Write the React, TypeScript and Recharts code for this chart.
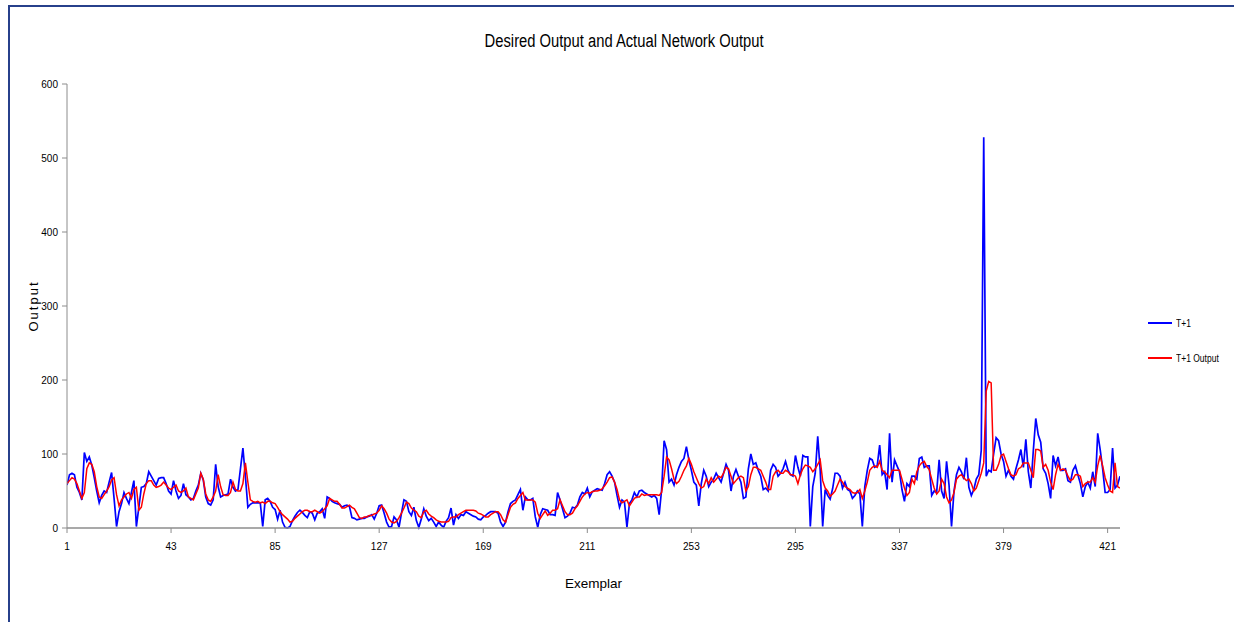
import React from "react";
import { LineChart, Line, XAxis, YAxis, Legend } from "recharts";

const seriesNames = ["T+1", "T+1 Output"];
const xTicks = [1, 43, 85, 127, 169, 211, 253, 295, 337, 379, 421];
const yTicks = [0, 100, 200, 300, 400, 500, 600];

const desired = [
  58, 72, 74, 72, 55, 48, 38, 102, 90, 96,
  85, 68, 50, 34, 44, 50, 48, 62, 75, 40,
  2, 22, 33, 48, 40, 33, 48, 64, 2, 28,
  55, 56, 60, 76, 70, 64, 58, 67, 68, 68,
  60, 50, 46, 64, 50, 40, 44, 60, 45, 42,
  38, 40, 50, 58, 74, 65, 42, 33, 31, 38,
  86, 56, 42, 44, 45, 46, 66, 55, 50, 52,
  80, 108, 70, 28, 32, 34, 34, 34, 34, 2,
  38, 40, 36, 28, 25, 12, 24, 8, 1, 0,
  2, 10, 16, 21, 24, 21, 17, 14, 22, 20,
  11, 20, 22, 26, 13, 42, 40, 36, 34, 33,
  32, 28, 30, 31, 29, 14, 13, 11, 12, 13,
  13, 15, 16, 18, 12, 20, 30, 31, 20, 8,
  1, 2, 15, 11, 1, 20, 38, 36, 22, 17,
  28, 10, 1, 12, 26, 16, 10, 13, 8, 2,
  8, 4, 1, 9, 14, 27, 4, 18, 13, 18,
  17, 22, 20, 18, 16, 15, 12, 11, 15, 17,
  20, 22, 22, 22, 20, 8, 2, 8, 22, 33,
  36, 38, 45, 52, 24, 42, 38, 38, 40, 15,
  1, 18, 26, 25, 24, 18, 18, 17, 48, 38,
  26, 14, 16, 20, 28, 27, 31, 42, 48, 46,
  54, 42, 49, 51, 53, 52, 51, 60, 72, 76,
  70, 62, 44, 28, 38, 35, 1, 33, 38, 48,
  42, 50, 51, 48, 46, 44, 42, 44, 40, 18,
  52, 118, 106, 62, 66, 58, 72, 82, 90, 94,
  110, 92, 78, 62, 58, 30, 60, 78, 70, 56,
  62, 66, 74, 68, 62, 74, 86, 78, 50, 70,
  79, 70, 62, 40, 42, 80, 100, 86, 88, 78,
  70, 52, 54, 50, 78, 86, 82, 70, 74, 80,
  90, 78, 72, 70, 98, 82, 70, 98, 96, 96,
  2, 56, 74, 124, 78, 2, 52, 44, 39, 53,
  74, 74, 70, 54, 62, 52, 50, 40, 44, 50,
  46, 2, 56, 78, 94, 92, 82, 84, 112, 72,
  76, 52, 128, 62, 92, 84, 76, 52, 36, 60,
  56, 70, 70, 66, 94, 96, 82, 84, 84, 44,
  50, 48, 92, 50, 40, 90, 58, 2, 50, 72,
  82, 76, 66, 95, 55, 44, 52, 66, 72, 105,
  528, 70, 78, 76, 100, 122, 118, 100, 90, 70,
  78, 70, 66, 80, 92, 106, 82, 120, 76, 54,
  104, 148, 126, 116, 80, 74, 60, 40, 98, 84,
  96, 78, 78, 80, 64, 62, 78, 84, 72, 60,
  42, 56, 62, 54, 76, 56, 128, 106, 80, 48,
  48, 52, 108, 54, 58, 70,
];

const actual = [
  60, 64, 68, 66, 60, 50, 40, 48, 80, 88,
  86, 76, 56, 42, 40, 45, 50, 56, 65, 68,
  45, 30, 38, 42, 46, 48, 40, 52, 55, 24,
  28, 46, 60, 64, 64, 58, 55, 56, 58, 62,
  58, 54, 52, 55, 58, 50, 48, 50, 54, 42,
  40, 38, 46, 54, 74, 66, 46, 38, 36, 42,
  50, 72, 56, 45, 44, 44, 48, 62, 52, 50,
  50, 60, 88, 62, 38, 36, 35, 36, 34, 35,
  33, 36, 36, 34, 33, 28, 22, 18, 15, 12,
  8, 9, 13, 16, 19, 22, 24, 24, 22, 22,
  24, 22, 20, 22, 26, 30, 40, 38, 36, 36,
  32, 27, 27, 29, 31, 28, 26, 20, 14, 13,
  15, 15, 17, 17, 19, 20, 24, 30, 26, 20,
  12, 8, 7, 9, 14, 20, 27, 35, 33, 27,
  24, 22, 16, 14, 22, 24, 19, 16, 14, 11,
  9, 8, 8, 8, 9, 14, 15, 15, 18, 20,
  22, 24, 24, 24, 24, 23, 20, 19, 17, 15,
  15, 18, 20, 22, 22, 18, 11, 8, 18, 28,
  32, 34, 40, 44, 48, 38, 38, 38, 38, 35,
  20, 13, 18, 23, 17, 20, 24, 24, 26, 38,
  30, 22, 18, 18, 20, 26, 30, 36, 42, 46,
  48, 47, 49, 50, 50, 51, 53, 57, 62, 68,
  69, 62, 52, 38, 34, 36, 38, 30, 35, 40,
  42, 42, 46, 44, 45, 45, 45, 45, 45, 44,
  48, 70, 96, 92, 80, 66, 60, 63, 70, 78,
  84, 94, 86, 76, 68, 60, 54, 56, 66, 60,
  68, 62, 66, 70, 68, 74, 82, 80, 70, 60,
  64, 68, 70, 68, 50, 56, 72, 82, 82, 80,
  78, 70, 62, 52, 52, 70, 76, 78, 74, 74,
  78, 76, 72, 72, 70, 60, 72, 80, 85, 84,
  82, 76, 80, 86, 92, 64, 54, 50, 43, 46,
  50, 58, 66, 62, 56, 54, 52, 48, 47, 48,
  52, 40, 50, 62, 78, 82, 84, 82, 90, 78,
  76, 72, 68, 78, 78, 78, 78, 66, 54, 44,
  48, 66, 60, 76, 84, 88, 90, 83, 79, 66,
  54, 46, 50, 66, 60, 42, 34, 38, 48, 66,
  70, 72, 68, 64, 66, 60, 50, 54, 64, 74,
  88, 185, 198, 196, 78, 78, 86, 98, 100, 90,
  80, 72, 70, 72, 80, 82, 88, 88, 88, 78,
  68, 106, 106, 104, 82, 86, 78, 62, 52, 72,
  86, 78, 80, 78, 70, 64, 66, 72, 72, 70,
  56, 60, 62, 62, 68, 62, 84, 98, 84, 68,
  58, 50, 48, 88, 56, 54,
];

const exemplars = desired.map((_, i) => i + 1);

const data = exemplars.map((x, i) => ({
  idx: x,
  t1: desired[i],
  t1out: actual[i],
}));

const FONT = "'Liberation Sans', Arial, sans-serif";

const LegendContent = () => (
  <div style={{ fontFamily: FONT, fontSize: 10, color: "#000" }}>
    <div style={{ display: "flex", alignItems: "center", height: 16 }}>
      <div style={{ width: 24, height: 2, background: "#0000ff", marginRight: 4 }} />
      <span style={{ display: "inline-block", transform: "scaleX(0.85)", transformOrigin: "left center" }}>
        {seriesNames[0]}
      </span>
    </div>
    <div style={{ height: 19 }} />
    <div style={{ display: "flex", alignItems: "center", height: 16 }}>
      <div style={{ width: 24, height: 2, background: "#ff0000", marginRight: 4 }} />
      <span style={{ display: "inline-block", transform: "scaleX(0.85)", transformOrigin: "left center", whiteSpace: "nowrap" }}>
        {seriesNames[1]}
      </span>
    </div>
  </div>
);

export default function App() {
  return (
    <div
      style={{
        position: "absolute",
        left: 0,
        top: 0,
        width: 1234,
        height: 622,
        background: "#fff",
        overflow: "hidden",
      }}
    >
      <div
        style={{
          position: "absolute",
          left: 8,
          top: 5,
          width: 1240,
          height: 640,
          border: "2px solid #27408b",
          boxSizing: "border-box",
        }}
      />
      <div
        style={{
          position: "absolute",
          left: 0,
          width: 1248,
          top: 31,
          textAlign: "center",
          fontFamily: FONT,
          fontSize: 18,
          color: "#000",
        }}
      >
        <span style={{ display: "inline-block", transform: "scaleX(0.82)" }}>
          Desired Output and Actual Network Output
        </span>
      </div>
      <LineChart
        width={1234}
        height={622}
        data={data}
        margin={{ top: 84, right: 114, bottom: 64, left: 27 }}
      >
        <XAxis
          dataKey="idx"
          type="number"
          domain={[1, 426]}
          ticks={xTicks}
          interval={0}
          allowDataOverflow
          height={30}
          tickSize={5}
          tickMargin={10}
          axisLine={{ stroke: "#8c8c8c", strokeWidth: 1.5 }}
          tickLine={{ stroke: "#8c8c8c" }}
          tick={{ fontSize: 10, fill: "#000", fontFamily: FONT }}
          label={{
            value: "Exemplar",
            position: "bottom",
            offset: 20,
            style: { fontSize: 13.5, fill: "#000", fontFamily: FONT, fontWeight: 500 },
          }}
        />
        <YAxis
          domain={[0, 600]}
          ticks={yTicks}
          interval={0}
          width={40}
          tickSize={5}
          tickMargin={4}
          axisLine={{ stroke: "#8c8c8c", strokeWidth: 1 }}
          tickLine={{ stroke: "#8c8c8c" }}
          tick={{ fontSize: 10, fill: "#000", fontFamily: FONT }}
          label={{
            content: () => (
              <text
                x={33}
                y={306}
                transform="rotate(-90 33 306)"
                textAnchor="middle"
                dominantBaseline="central"
                style={{ fontSize: 13, fill: "#000", fontFamily: FONT, letterSpacing: 2 }}
              >
                Output
              </text>
            ),
          }}
        />
        <Legend
          layout="vertical"
          align="center"
          verticalAlign="middle"
          content={<LegendContent />}
          wrapperStyle={{ position: "absolute", left: 1148, top: 315, width: 90, height: 60 }}
        />
        <Line
          type="linear"
          dataKey="t1"
          name={seriesNames[0]}
          stroke="#0000ff"
          strokeWidth={1.7}
          dot={false}
          activeDot={false}
          isAnimationActive={false}
        />
        <Line
          type="linear"
          dataKey="t1out"
          name={seriesNames[1]}
          stroke="#ff0000"
          strokeWidth={1.5}
          dot={false}
          activeDot={false}
          isAnimationActive={false}
        />
      </LineChart>
    </div>
  );
}
